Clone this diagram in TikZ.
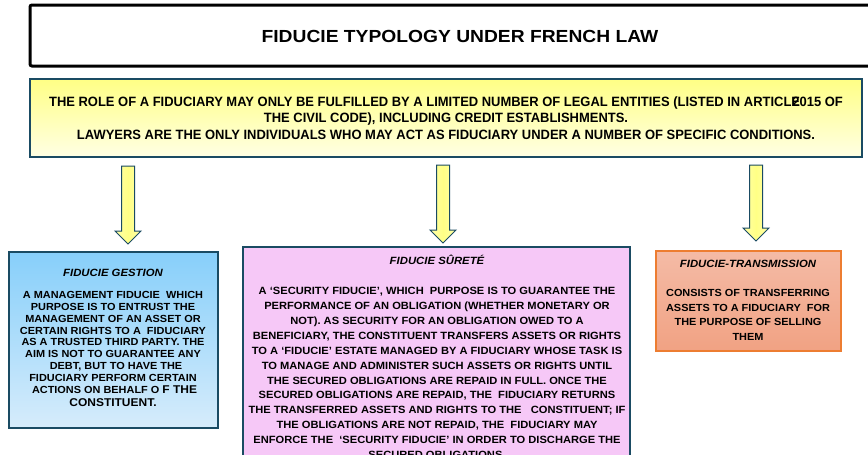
\documentclass[tikz,border=0pt]{standalone}
\usepackage{fontspec}
\setmainfont{Liberation Sans}
\newfontfamily\titlefont[FakeStretch=1.1]{Liberation Sans}
\newfontfamily\notefont[FakeStretch=0.96]{Liberation Sans}
\newfontfamily\bodyfont[FakeStretch=1.06]{Liberation Sans}
\newfontfamily\headfont[FakeStretch=1.08]{Liberation Sans}
\definecolor{navy}{HTML}{1A4B63}
\definecolor{ytop}{HTML}{FFFF85}
\definecolor{ybot}{HTML}{FFFFE4}
\definecolor{btop}{HTML}{87CFFA}
\definecolor{bbot}{HTML}{D6ECFB}
\definecolor{pinkfill}{HTML}{F6C8F7}
\definecolor{otop}{HTML}{F4BBA6}
\definecolor{obot}{HTML}{F1A283}
\definecolor{oborder}{HTML}{ED7D31}
\tikzset{
  titlebox/.style={draw=black,line width=3pt,rounded corners=2pt,fill=white},
  notebox/.style={draw=navy,line width=2.5pt,top color=ytop,bottom color=ybot},
  gestbox/.style={draw=navy,line width=2.5pt,top color=btop,bottom color=bbot},
  surbox/.style={draw=navy,line width=2.5pt,fill=pinkfill},
  transbox/.style={draw=oborder,line width=2.5pt,top color=otop,bottom color=obot},
  blockarrow/.style={draw=navy,line width=1pt,line join=miter,left color=ytop!70!white,right color=ytop!70!white,middle color=ytop},
  txt/.style={inner sep=0pt,align=center,text=black},
  headtxt/.style={txt,font=\headfont\bfseries\itshape\fontsize{10.5}{12}\selectfont},
}
\newcommand\blkarrow[3]{%
  \path[blockarrow] (#1-6.5,#2) -- (#1+6.5,#2) -- (#1+6.5,#3-13) -- (#1+13,#3-13)
    -- (#1,#3) -- (#1-13,#3-13) -- (#1-6.5,#3-13) -- cycle;}
\begin{document}
\begin{tikzpicture}[x=1pt,y=-1pt]
\useasboundingbox[fill=white] (0,0) rectangle (868,455);
% title
\path[titlebox] (30,5) rectangle (885,66);
\node[txt,font=\titlefont\bfseries\fontsize{17.5}{20}\selectfont] (title) at (460,36) {FIDUCIE TYPOLOGY UNDER FRENCH LAW};
% note box
\path[notebox] (30,79) rectangle (862,157);
\node[txt,font=\notefont\bfseries\fontsize{13.5}{16.8}\selectfont] (note) at (446,118)
 {THE ROLE OF A FIDUCIARY MAY ONLY BE FULFILLED BY A LIMITED NUMBER OF LEGAL ENTITIES (LISTED IN ARTICL\rlap{E}\kern1pt 2015 OF\\
  THE CIVIL CODE), INCLUDING CREDIT ESTABLISHMENTS.\\
  LAWYERS ARE THE ONLY INDIVIDUALS WHO MAY ACT AS FIDUCIARY UNDER A NUMBER OF SPECIFIC CONDITIONS.};
% arrows
\blkarrow{128}{166}{244}
\blkarrow{443}{165}{243}
\blkarrow{756}{165}{241}
% left box
\path[gestbox] (9,252) rectangle (218,428);
\node[headtxt] (gt) at (113,273) {FIDUCIE GESTION};
\node[txt,font=\bodyfont\bfseries\fontsize{10.3}{11.8}\selectfont] (gb) at (113,349)
 {A MANAGEMENT FIDUCIE\ \ WHICH\\
  PURPOSE IS TO ENTRUST THE\\
  MANAGEMENT OF AN ASSET OR\\
  CERTAIN RIGHTS TO A\ \ FIDUCIARY\\
  AS A TRUSTED THIRD PARTY. THE\\
  AIM IS NOT TO GUARANTEE ANY\\
  \ \ DEBT, BUT TO HAVE THE\\
  FIDUCIARY PERFORM CERTAIN\\
  \ ACTIONS ON BEHALF O {\fontsize{11.3}{12}\selectfont F THE}\\[1.3pt]
  {\fontsize{11.3}{12}\selectfont CONSTITUENT.}};
% middle box
\path[surbox] (243,247) rectangle (630,475);
\node[headtxt] (st) at (437,260) {FIDUCIE SÛRETÉ};
\node[txt,font=\bodyfont\bfseries\fontsize{10.5}{14.9}\selectfont] (sb) at (437,373)
 {A ‘SECURITY FIDUCIE’, WHICH\ \ PURPOSE IS TO GUARANTEE THE\\
  PERFORMANCE OF AN OBLIGATION (WHETHER MONETARY OR\\
  NOT). AS SECURITY FOR AN OBLIGATION OWED TO A\\
  BENEFICIARY, THE CONSTITUENT TRANSFERS ASSETS OR RIGHTS\\
  TO A ‘FIDUCIE’ ESTATE MANAGED BY A FIDUCIARY WHOSE TASK IS\\
  TO MANAGE AND ADMINISTER SUCH ASSETS OR RIGHTS UNTIL\\
  THE SECURED OBLIGATIONS ARE REPAID IN FULL. ONCE THE\\
  SECURED OBLIGATIONS ARE REPAID, THE\ \ FIDUCIARY RETURNS\\
  THE TRANSFERRED ASSETS AND RIGHTS TO THE\ \ \ CONSTITUENT; IF\\
  THE OBLIGATIONS ARE NOT REPAID, THE\ \ FIDUCIARY MAY\\
  ENFORCE THE\ \ ‘SECURITY FIDUCIE’ IN ORDER TO DISCHARGE THE\\
  SECURED OBLIGATIONS.};
% right box
\path[transbox] (656,251) rectangle (841,351);
\node[headtxt] (tt) at (748,264) {FIDUCIE-TRANSMISSION};
\node[txt,font=\bodyfont\bfseries\fontsize{10.3}{14.5}\selectfont] (tb) at (748,315)
 {CONSISTS OF TRANSFERRING\\
  ASSETS TO A FIDUCIARY\ \ FOR\\
  THE PURPOSE OF SELLING\\
  THEM};
\end{tikzpicture}
\end{document}
